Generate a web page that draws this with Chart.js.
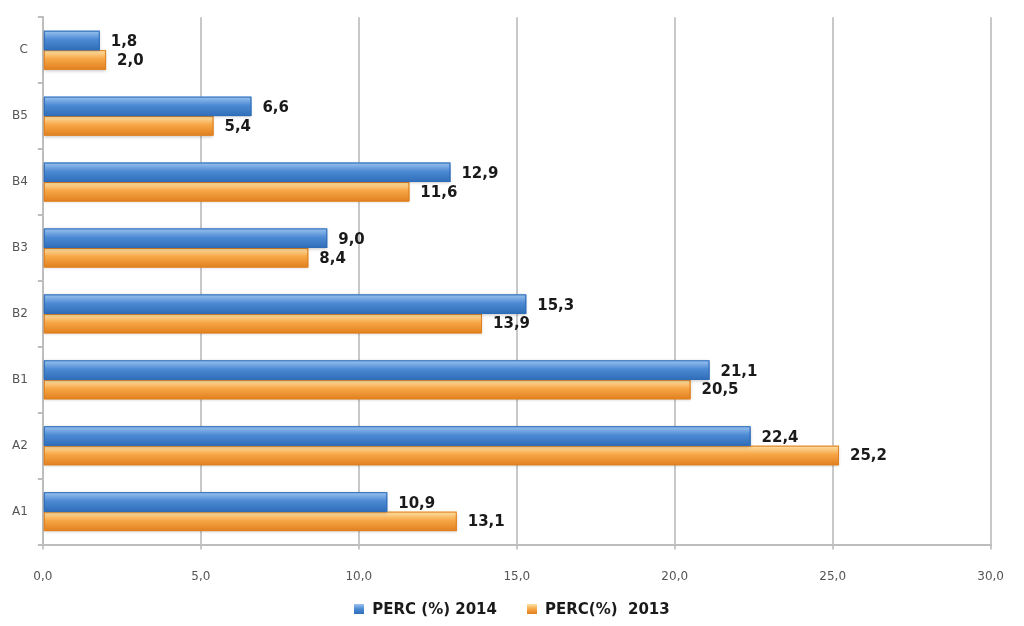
<!DOCTYPE html>
<html>
<head>
<meta charset="utf-8">
<script src="https://cdn.jsdelivr.net/npm/chart.js@4/dist/chart.umd.min.js"></script>
<style>
  html, body { margin: 0; padding: 0; background: #fff; overflow: hidden; }
  #wrap { width: 1024px; height: 626px; position: relative; }
  #chart { position: absolute; left: 0; top: 0; }
  #legend {
    position: absolute; left: 0; top: 599px; width: 1024px; height: 20px;
    display: flex; justify-content: center; align-items: center; gap: 30px;
    font: bold 15px "DejaVu Sans", sans-serif; color: #1a1a1a;
  }
  #legend span.item { display: flex; align-items: center; white-space: pre; }
  #legend i { display: inline-block; width: 10px; height: 10px; margin-right: 8px; }
</style>
</head>
<body>
<div id="wrap">
  <canvas id="chart" width="1024" height="604"></canvas>
  <div id="legend"></div>
</div>
<script>
  // Categories, top to bottom as in the picture.
  const CATEGORIES = ['C', 'B5', 'B4', 'B3', 'B2', 'B1', 'A2', 'A1'];
  const PERC_2014 = [1.8, 6.6, 12.9, 9.0, 15.3, 21.1, 22.4, 10.9];
  const PERC_2013 = [2.0, 5.4, 11.6, 8.4, 13.9, 20.5, 25.2, 13.1];
  const SERIES_LABELS = ['PERC (%) 2014', 'PERC(%)  2013'];

  // light -> dark vertical gradients
  const BLUE = ['#9cc4f0', '#4d8ad4', '#2f6db8'];
  const ORANGE = ['#fde2a8', '#f7a646', '#e0801f'];
  const SHADES = [BLUE, ORANGE];

  const fmt = v => v.toFixed(1).replace('.', ',');
  const tickFont = { family: '"DejaVu Sans", sans-serif', size: 12 };

  // Repaint each bar with a glossy gradient using the element geometry.
  const gloss = {
    id: 'gloss',
    afterDatasetDraw(chart, args) {
      const ctx = chart.ctx;
      const stops = SHADES[args.index];
      args.meta.data.forEach(bar => {
        const { x, y, base, height } = bar.getProps(['x', 'y', 'base', 'height'], true);
        const top = y - height / 2;
        const g = ctx.createLinearGradient(0, top, 0, top + height);
        g.addColorStop(0, stops[0]);
        g.addColorStop(0.45, stops[1]);
        g.addColorStop(1, stops[2]);
        ctx.save();
        ctx.shadowColor = 'rgba(0,0,0,0.25)';
        ctx.shadowBlur = 3;
        ctx.shadowOffsetY = 1;
        ctx.fillStyle = g;
        ctx.fillRect(base, top, x - base, height);
        ctx.shadowColor = 'transparent';
        ctx.strokeStyle = stops[2];
        ctx.lineWidth = 1;
        ctx.strokeRect(base + 0.5, top + 0.5, x - base - 1, height - 1);
        ctx.restore();
      });
    }
  };

  // Value labels to the right of each bar.
  const valueLabels = {
    id: 'valueLabels',
    afterDatasetsDraw(chart) {
      const ctx = chart.ctx;
      ctx.save();
      ctx.font = 'bold 15px "DejaVu Sans", sans-serif';
      ctx.fillStyle = '#1a1a1a';
      ctx.textBaseline = 'middle';
      chart.data.datasets.forEach((ds, di) => {
        chart.getDatasetMeta(di).data.forEach((bar, i) => {
          const { x, y } = bar.getProps(['x', 'y'], true);
          ctx.fillText(fmt(ds.data[i]), x + 11, y + (di === 0 ? 2 : 1));
        });
      });
      ctx.restore();
    }
  };

  // x tick labels drawn from the scale's own ticks, a fixed gap below the axis
  const xTickLabels = {
    id: 'xTickLabels',
    afterDraw(chart) {
      const sx = chart.scales.x;
      const ctx = chart.ctx;
      ctx.save();
      ctx.font = '12px "DejaVu Sans", sans-serif';
      ctx.fillStyle = '#555';
      ctx.textAlign = 'center';
      ctx.textBaseline = 'middle';
      sx.ticks.forEach(t => {
        ctx.fillText(fmt(t.value), sx.getPixelForValue(t.value), sx.top + 32);
      });
      ctx.restore();
    }
  };

  new Chart(document.getElementById('chart'), {
    type: 'bar',
    data: {
      labels: CATEGORIES,
      datasets: [
        { label: SERIES_LABELS[0], data: PERC_2014, backgroundColor: BLUE[1] },
        { label: SERIES_LABELS[1], data: PERC_2013, backgroundColor: ORANGE[1] }
      ]
    },
    options: {
      indexAxis: 'y',
      responsive: false,
      animation: false,
      devicePixelRatio: 1,
      categoryPercentage: 0.59,
      barPercentage: 1.0,
      layout: { padding: { left: 2, right: 32, top: 14, bottom: 0 } },
      scales: {
        x: {
          min: 0,
          max: 30,
          // labels keep their layout space but are painted by xTickLabels
          ticks: { stepSize: 5, callback: v => fmt(v), color: 'rgba(0,0,0,0)', font: tickFont, padding: 20 },
          grid: { color: '#c8c8c8', lineWidth: 2, tickLength: 5 },
          border: { color: '#bdbdbd', width: 2 }
        },
        y: {
          ticks: { color: '#555', font: tickFont, padding: 10 },
          grid: { drawOnChartArea: false, tickLength: 5, color: '#bdbdbd', lineWidth: 2, offset: true },
          border: { color: '#bdbdbd', width: 2 }
        }
      },
      plugins: {
        legend: { display: false },
        tooltip: { enabled: false }
      }
    },
    plugins: [gloss, valueLabels, xTickLabels]
  });

  // HTML legend below the chart
  const legend = document.getElementById('legend');
  SERIES_LABELS.forEach((text, i) => {
    const item = document.createElement('span');
    item.className = 'item';
    const box = document.createElement('i');
    box.style.background = 'linear-gradient(' + SHADES[i][0] + ',' + SHADES[i][1] + ' 50%,' + SHADES[i][2] + ')';
    item.appendChild(box);
    item.appendChild(document.createTextNode(text));
    legend.appendChild(item);
  });
</script>
</body>
</html>
